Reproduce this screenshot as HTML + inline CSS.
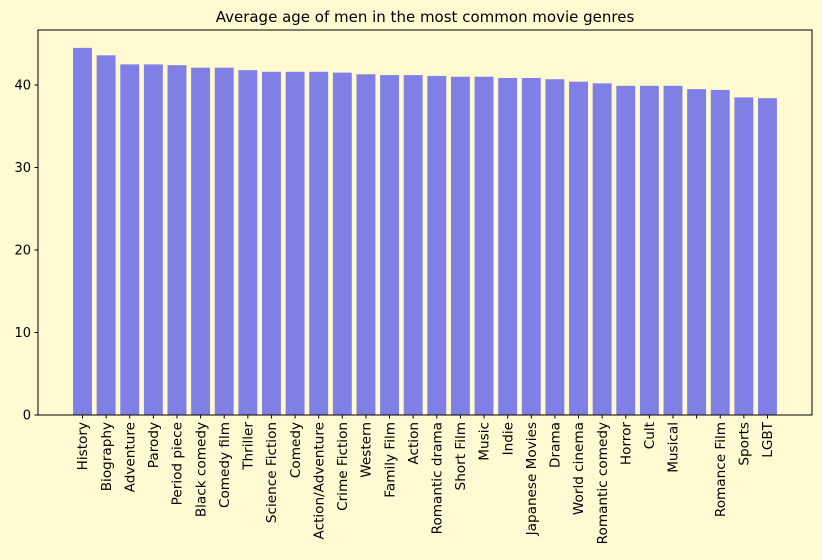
<!DOCTYPE html>
<html><head><meta charset="utf-8"><style>
body{margin:0;background:#fffad1;}
svg{display:block;font-family:"DejaVu Sans","Liberation Sans",sans-serif;}
</style></head><body>
<svg id="chart" width="822" height="560" viewBox="0 0 822 560">
<rect x="0" y="0" width="822" height="560" fill="#fffad1"/>
<text x="425" y="22" text-anchor="middle" font-size="15" fill="#000">Average age of men in the most common movie genres</text>
<g id="bars"></g>
<g id="yaxis"></g>
<g id="xaxis"></g>
<rect x="38" y="30" width="774" height="385" fill="none" stroke="#000" stroke-width="1"/>
</svg>
<script>
const categories=["History","Biography","Adventure","Parody","Period piece","Black comedy","Comedy film","Thriller","Science Fiction","Comedy","Action/Adventure","Crime Fiction","Western","Family Film","Action","Romantic drama","Short Film","Music","Indie","Japanese Movies","Drama","World cinema","Romantic comedy","Horror","Cult","Musical","","Romance Film","Sports","LGBT"];
const values=[44.5,43.6,42.5,42.5,42.4,42.1,42.1,41.8,41.6,41.6,41.6,41.5,41.3,41.2,41.2,41.1,41.0,41.0,40.85,40.85,40.7,40.4,40.2,39.9,39.9,39.9,39.5,39.4,38.5,38.4];
const yTicks=[0,10,20,30,40];
const NS="http://www.w3.org/2000/svg";
function y(v){return 415-v*8.25;}
function x(i){return 82.5+i*23.62;}
const bw=18.9;
const bars=document.getElementById('bars'),xa=document.getElementById('xaxis'),ya=document.getElementById('yaxis');
values.forEach((v,i)=>{
  const r=document.createElementNS(NS,'rect');
  
  
  r.setAttribute('x',x(i)-bw/2);r.setAttribute('y',y(v));r.setAttribute('width',bw);r.setAttribute('height',y(0)-y(v));r.setAttribute('fill','#7f7fe6');
  bars.appendChild(r);
  const t=document.createElementNS(NS,'line');
  
  
  t.setAttribute('x1',x(i));t.setAttribute('x2',x(i));t.setAttribute('y1',415);t.setAttribute('y2',418.5);t.setAttribute('stroke','#000');
  xa.appendChild(t);
  const l=document.createElementNS(NS,'text');
  
  
  l.setAttribute('transform','translate('+(x(i)+4.7)+',422) rotate(-90)');
  l.setAttribute('text-anchor','end');l.setAttribute('font-size','13.6');
  l.textContent=categories[i];
  xa.appendChild(l);
});
yTicks.forEach(v=>{
  const t=document.createElementNS(NS,'line');
  
  
  t.setAttribute('x1',34.5);t.setAttribute('x2',38);t.setAttribute('y1',y(v));t.setAttribute('y2',y(v));t.setAttribute('stroke','#000');
  ya.appendChild(t);
  const l=document.createElementNS(NS,'text');
  
  
  l.setAttribute('x',31);l.setAttribute('y',y(v)+4.5);l.setAttribute('text-anchor','end');l.setAttribute('font-size','13');
  l.textContent=v;
  ya.appendChild(l);
});
</script>
</body></html>
